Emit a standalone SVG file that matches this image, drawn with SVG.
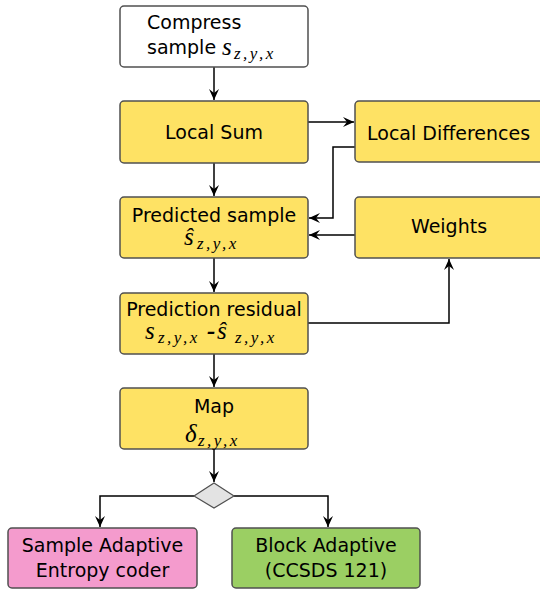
<svg xmlns="http://www.w3.org/2000/svg" width="540" height="589" viewBox="0 0 540 589">
<style>
.box{stroke:#505050;stroke-width:1.5}
.y{fill:#FEE264}
.t{font-family:"DejaVu Sans",sans-serif;font-size:19px;fill:#000}
.m{font-family:"Liberation Serif",serif;font-style:italic;font-size:25px;fill:#000}
.sub{font-size:17px;letter-spacing:2.5px}
.c{stroke:#000;stroke-width:1.5;fill:none;marker-end:url(#ah)}
</style>
<defs>
<marker id="ah" markerUnits="userSpaceOnUse" markerWidth="14" markerHeight="12" viewBox="-12 -6 14 12" refX="0" refY="0" orient="auto">
<path d="M0,0 L-11,-5 L-7,0 L-11,5 Z" fill="#000"/>
</marker>
</defs>
<rect width="540" height="589" fill="#fff"/>
<g id="connectors">
<path class="c" d="M214,67 V100"/>
<path class="c" d="M308,122 H354"/>
<path class="c" d="M214,163 V196"/>
<path class="c" d="M355,147 H333 V218 H309"/>
<path class="c" d="M355,235 H309"/>
<path class="c" d="M214,258 V292"/>
<path class="c" d="M308,323 H449 V259"/>
<path class="c" d="M214,354 V387"/>
<path class="c" d="M214,449 V482"/>
<path class="c" d="M194,496 H100 V527"/>
<path class="c" d="M234,496 H328 V527"/>
</g>
<g id="compress">
<rect class="box" x="120" y="6" width="188" height="61" rx="4" fill="#fff"/>
<text class="t" x="147" y="29">Compress</text>
<text class="t" x="147" y="54">sample</text>
<text class="m" x="222" y="55">s<tspan class="sub" x="234" y="59">z,y,x</tspan></text>
</g>
<g id="localsum">
<rect class="box y" x="120" y="101" width="188" height="62" rx="4"/>
<text class="t" x="214" y="139" text-anchor="middle">Local Sum</text>
</g>
<g id="localdiff">
<rect class="box y" x="355" y="101" width="195" height="61" rx="4"/>
<text class="t" x="367" y="140">Local Differences</text>
</g>
<g id="predicted">
<rect class="box y" x="120" y="197" width="188" height="61" rx="4"/>
<text class="t" x="214" y="222" text-anchor="middle">Predicted sample</text>
<text class="m" x="184" y="245">ŝ<tspan class="sub" x="197" y="249">z,y,x</tspan></text>
</g>
<g id="weights">
<rect class="box y" x="355" y="197" width="195" height="61" rx="4"/>
<text class="t" x="449" y="233" text-anchor="middle">Weights</text>
</g>
<g id="residual">
<rect class="box y" x="120" y="293" width="188" height="61" rx="4"/>
<text class="t" x="214" y="316" text-anchor="middle">Prediction residual</text>
<text class="m" x="145" y="339">s<tspan class="sub" x="158" y="343">z,y,x</tspan><tspan x="217" y="339">ŝ</tspan><tspan class="sub" x="235" y="343">z,y,x</tspan></text>
<text class="m" x="207" y="339" font-style="normal" font-weight="bold" font-size="20">-</text>
</g>
<g id="map">
<rect class="box y" x="120" y="388" width="188" height="61" rx="4"/>
<text class="t" x="214" y="413" text-anchor="middle">Map</text>
<text class="m" x="185" y="442">δ<tspan class="sub" x="198" y="446">z,y,x</tspan></text>
</g>
<g id="decision">
<polygon points="214,483 234,496 214,508 194,496" fill="#E3E3E3" stroke="#505050" stroke-width="1.2"/>
</g>
<g id="sample-adaptive">
<rect class="box" x="8" y="528" width="189" height="60" rx="4" fill="#F49BCD"/>
<text class="t" x="102.5" y="552" text-anchor="middle">Sample Adaptive</text>
<text class="t" x="102.5" y="577" text-anchor="middle">Entropy coder</text>
</g>
<g id="block-adaptive">
<rect class="box" x="232" y="528" width="188" height="60" rx="4" fill="#9BCF63"/>
<text class="t" x="326" y="552" text-anchor="middle">Block Adaptive</text>
<text class="t" x="326" y="577" text-anchor="middle">(CCSDS 121)</text>
</g>
</svg>
